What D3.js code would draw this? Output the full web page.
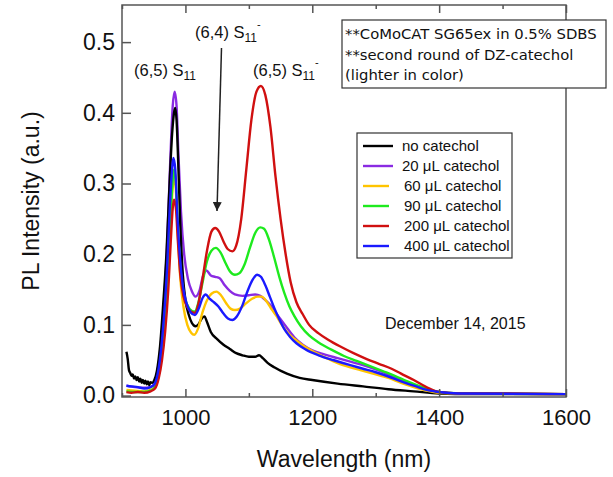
<!DOCTYPE html>
<html><head><meta charset="utf-8">
<script src="https://cdn.jsdelivr.net/npm/d3@7"></script>
<style>body{margin:0;background:#fff}</style></head>
<body><svg id="c" width="613" height="477"></svg>
<script>
// ---------------- data ----------------
const seriesNames = ["no catechol","20 \u03bcL catechol","60 \u03bcL catechol","90 \u03bcL catechol","200 \u03bcL catechol","400 \u03bcL catechol"];
const seriesColors = ["#000000","#8a2be2","#ffc400","#1eea1e","#d01010","#1a1aff"];
const xMajorTicks = [1000,1200,1400,1600];
const xMinorTicks = [900,1100,1300,1500];
const yTicks = [0.0,0.1,0.2,0.3,0.4,0.5];

const noCatechol = [[907,0.062],[909,0.052],[911,0.036],[913,0.032],[915,0.028],[917,0.03],[919,0.024],[921,0.027],[923,0.022],[925,0.026],[927,0.02],[929,0.024],[931,0.018],[933,0.022],[935,0.017],[937,0.021],[939,0.016],[941,0.02],[943,0.015],[945,0.019],[948,0.018],[951,0.022],[955,0.035],[960,0.07],[965,0.13],[970,0.2],[975,0.3],[979,0.37],[982,0.4],[984,0.407],[986,0.39],[989,0.32],[992,0.24],[996,0.17],[1000,0.135],[1005,0.115],[1010,0.103],[1016,0.098],[1020,0.1],[1025,0.108],[1030,0.112],[1034,0.104],[1040,0.09],[1050,0.08],[1060,0.072],[1070,0.066],[1080,0.06],[1090,0.057],[1100,0.055],[1110,0.055],[1116,0.057],[1122,0.053],[1130,0.046],[1140,0.04],[1160,0.031],[1180,0.025],[1200,0.022],[1240,0.017],[1280,0.013],[1320,0.009],[1360,0.006],[1400,0.003],[1450,0.002],[1500,0.002],[1550,0.002],[1600,0.002]];
const cat20 = [[907,0.014],[920,0.012],[935,0.011],[945,0.012],[951,0.016],[956,0.035],[961,0.07],[966,0.13],[971,0.21],[976,0.33],[980,0.41],[983,0.43],[986,0.41],[989,0.34],[993,0.26],[998,0.2],[1004,0.165],[1010,0.148],[1016,0.14],[1022,0.148],[1028,0.17],[1033,0.177],[1040,0.17],[1047,0.168],[1054,0.166],[1062,0.156],[1070,0.148],[1078,0.143],[1090,0.141],[1100,0.142],[1110,0.143],[1118,0.141],[1126,0.135],[1134,0.128],[1142,0.118],[1150,0.108],[1160,0.096],[1172,0.082],[1185,0.072],[1200,0.064],[1220,0.058],[1240,0.053],[1260,0.048],[1280,0.043],[1300,0.037],[1320,0.03],[1340,0.022],[1360,0.015],[1380,0.009],[1400,0.005],[1430,0.003],[1600,0.002]];
const cat60 = [[907,0.008],[920,0.007],[935,0.006],[945,0.008],[952,0.012],[958,0.03],[963,0.06],[968,0.11],[973,0.18],[977,0.25],[980,0.295],[982,0.31],[985,0.29],[988,0.23],[992,0.165],[997,0.125],[1003,0.1],[1009,0.089],[1014,0.086],[1020,0.095],[1027,0.118],[1034,0.135],[1041,0.144],[1049,0.147],[1056,0.142],[1064,0.131],[1071,0.123],[1078,0.121],[1086,0.123],[1095,0.13],[1105,0.137],[1114,0.14],[1120,0.14],[1128,0.133],[1136,0.122],[1144,0.112],[1152,0.1],[1162,0.088],[1172,0.08],[1182,0.073],[1200,0.063],[1220,0.054],[1240,0.046],[1260,0.04],[1280,0.035],[1300,0.03],[1320,0.025],[1340,0.018],[1360,0.012],[1380,0.007],[1400,0.004],[1430,0.003],[1600,0.002]];
const cat90 = [[907,0.006],[920,0.005],[935,0.005],[945,0.007],[952,0.012],[958,0.03],[963,0.06],[968,0.11],[973,0.18],[977,0.26],[980,0.305],[982,0.32],[985,0.3],[988,0.24],[992,0.18],[997,0.145],[1003,0.128],[1010,0.12],[1015,0.119],[1020,0.13],[1027,0.16],[1034,0.19],[1041,0.205],[1048,0.209],[1055,0.203],[1063,0.188],[1070,0.176],[1078,0.171],[1085,0.173],[1093,0.185],[1102,0.21],[1110,0.23],[1118,0.238],[1124,0.236],[1132,0.22],[1140,0.195],[1148,0.168],[1156,0.145],[1164,0.126],[1172,0.112],[1182,0.098],[1195,0.085],[1210,0.075],[1230,0.065],[1250,0.056],[1270,0.049],[1290,0.042],[1310,0.035],[1330,0.028],[1350,0.02],[1370,0.013],[1390,0.007],[1410,0.004],[1450,0.003],[1600,0.002]];
const cat200 = [[907,0.005],[915,0.004],[925,0.005],[935,0.004],[945,0.006],[952,0.01],[958,0.025],[963,0.05],[968,0.09],[973,0.15],[977,0.22],[980,0.265],[982,0.277],[985,0.265],[988,0.22],[992,0.17],[997,0.14],[1003,0.125],[1010,0.118],[1015,0.117],[1020,0.128],[1027,0.165],[1034,0.205],[1041,0.232],[1047,0.237],[1053,0.232],[1060,0.218],[1067,0.207],[1074,0.204],[1080,0.212],[1088,0.25],[1096,0.32],[1104,0.39],[1112,0.43],[1119,0.438],[1126,0.425],[1134,0.38],[1142,0.31],[1150,0.25],[1158,0.2],[1166,0.16],[1175,0.132],[1185,0.115],[1195,0.1],[1210,0.088],[1225,0.079],[1245,0.069],[1265,0.06],[1285,0.052],[1305,0.045],[1325,0.038],[1340,0.031],[1360,0.022],[1380,0.012],[1400,0.005],[1430,0.003],[1500,0.003],[1600,0.002]];
const cat400 = [[907,0.014],[915,0.013],[925,0.012],[935,0.01],[945,0.012],[951,0.016],[956,0.03],[961,0.06],[966,0.11],[971,0.18],[975,0.26],[979,0.32],[981,0.336],[984,0.32],[987,0.26],[991,0.2],[996,0.155],[1002,0.13],[1008,0.118],[1015,0.114],[1021,0.123],[1027,0.138],[1032,0.143],[1038,0.137],[1045,0.132],[1052,0.126],[1060,0.116],[1067,0.109],[1074,0.107],[1081,0.112],[1090,0.128],[1098,0.148],[1106,0.164],[1113,0.171],[1119,0.168],[1126,0.156],[1133,0.14],[1140,0.124],[1148,0.108],[1156,0.094],[1165,0.083],[1175,0.074],[1190,0.065],[1210,0.057],[1234,0.05],[1260,0.043],[1280,0.038],[1300,0.033],[1320,0.027],[1340,0.02],[1360,0.014],[1380,0.008],[1400,0.005],[1430,0.003],[1600,0.002]];
const seriesData = [noCatechol, cat20, cat60, cat90, cat200, cat400];
const drawOrder = [1,0,2,3,4,5];

const noteLines = ["**CoMoCAT SG65ex in 0.5% SDBS","**second round of DZ-catechol","(lighter in color)"];
const dateText = "December 14, 2015";

// ---------------- layout ----------------
const L = 122, R = 566, T = 5, B = 397;
const svg = d3.select("#c");
const x = d3.scaleLinear().domain([900,1600]).range([L,R]);
const y = d3.scaleLinear().domain([-0.002,0.5525]).range([B,T]);
const font = "'Liberation Sans', Arial, Helvetica, sans-serif";
const axisColor = "#555";

// curves
const line = d3.line().x(d=>x(d[0])).y(d=>y(d[1])).curve(d3.curveMonotoneX);
const plot = svg.append("g");
drawOrder.forEach(i=>{
  plot.append("path").datum(seriesData[i]).attr("d",line)
    .attr("fill","none").attr("stroke",seriesColors[i]).attr("stroke-width",2.4)
    .attr("stroke-linejoin","round");
});

// axes
function styleAxis(g){
  g.select(".domain").remove();
  g.selectAll(".tick line").attr("stroke",axisColor).attr("stroke-width",1.5);
  g.selectAll(".tick text").attr("fill","#111").style("font-family",font);
}
svg.append("g").attr("transform",`translate(0,${B})`)
  .call(d3.axisBottom(x).tickValues(xMajorTicks).tickSize(-8).tickPadding(12).tickFormat(d3.format("d")))
  .call(styleAxis).selectAll("text").style("font-size","22px");
svg.append("g").attr("transform",`translate(0,${B})`)
  .call(d3.axisBottom(x).tickValues(xMinorTicks).tickSize(-4).tickFormat(""))
  .call(styleAxis);
svg.append("g").attr("transform",`translate(0,${T})`)
  .call(d3.axisTop(x).tickValues(xMajorTicks).tickSize(-8).tickFormat(""))
  .call(styleAxis);
svg.append("g").attr("transform",`translate(0,${T})`)
  .call(d3.axisTop(x).tickValues(xMinorTicks).tickSize(-4).tickFormat(""))
  .call(styleAxis);
svg.append("g").attr("transform",`translate(${L},0)`)
  .call(d3.axisLeft(y).tickValues(yTicks).tickSize(-9).tickPadding(7).tickFormat(d3.format(".1f")))
  .call(styleAxis).selectAll("text").style("font-size","23px");

// frame
svg.append("rect").attr("x",L).attr("y",T).attr("width",R-L).attr("height",B-T)
  .attr("fill","none").attr("stroke",axisColor).attr("stroke-width",1.5);

// axis titles
svg.append("text").attr("x",(L+R)/2).attr("y",467).attr("text-anchor","middle")
  .style("font-family",font).style("font-size","23px").attr("fill","#111").text("Wavelength (nm)");
svg.append("text").attr("transform",`translate(39,${(T+B)/2}) rotate(-90)`).attr("text-anchor","middle")
  .style("font-family",font).style("font-size","23px").attr("fill","#111").text("PL Intensity (a.u.)");

// annotations
function peakLabel(px,py,sup){
  const t = svg.append("text").attr("x",px).attr("y",py).style("font-family",font)
    .style("font-size","16.5px").attr("fill","#111");
  t.append("tspan").text("(6,"+(sup[0])+") S");
  t.append("tspan").attr("dy",4).style("font-size","12px").text("11");
  if(sup[1]) t.append("tspan").attr("dy",-14).style("font-size","11px").text("-");
}
peakLabel(134,76,["5",false]);
peakLabel(195,38,["4",true]);
peakLabel(253,76,["5",true]);

svg.append("defs").append("marker").attr("id","ah").attr("viewBox","0 0 10 10")
  .attr("refX",10).attr("refY",5).attr("markerWidth",9).attr("markerHeight",9)
  .attr("markerUnits","userSpaceOnUse").attr("orient","auto")
  .append("path").attr("d","M0,0 L10,5 L0,10 Z").attr("fill","#222");
svg.append("line").attr("x1",221.5).attr("y1",48).attr("x2",217).attr("y2",211)
  .attr("stroke","#222").attr("stroke-width",1.5).attr("marker-end","url(#ah)");

// note box
svg.append("rect").attr("x",342).attr("y",20).attr("width",264).attr("height",68)
  .attr("fill","#fff").attr("stroke","#333").attr("stroke-width",1.2);
noteLines.forEach((s,i)=>{
  svg.append("text").attr("x",345).attr("y",39+i*20.5).style("font-family","'DejaVu Sans', sans-serif")
    .style("font-size","14.8px").attr("fill","#111").text(s);
});

// legend
const lg = svg.append("g");
lg.append("rect").attr("x",357).attr("y",133).attr("width",155).attr("height",125)
  .attr("fill","#fff").attr("stroke","#333").attr("stroke-width",1.2);
seriesNames.forEach((n,i)=>{
  const yy = 146+i*20;
  lg.append("line").attr("x1",363).attr("x2",i<2?393:389).attr("y1",yy).attr("y2",yy)
    .attr("stroke",seriesColors[i]).attr("stroke-width",2.4);
  lg.append("text").attr("x",i<2?402:404).attr("y",yy+5).style("font-family",font)
    .style("font-size","15px").attr("fill","#111").text(n);
});

svg.append("text").attr("x",385).attr("y",329).style("font-family",font)
  .style("font-size","16px").attr("fill","#111").text(dateText);
</script></body></html>
